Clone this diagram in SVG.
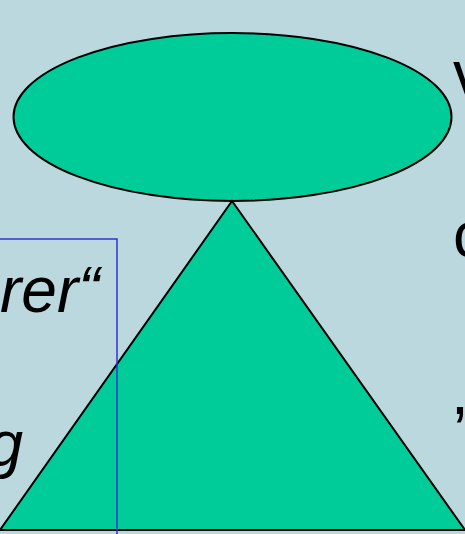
<svg xmlns="http://www.w3.org/2000/svg" width="465" height="534" viewBox="0 0 465 534">
<style>
.shape{fill:#00CC99;stroke:#000;stroke-width:2}
.t{font-family:"Liberation Sans",Arial,sans-serif;font-size:64px;fill:#000}
.i{font-style:italic}
</style>
<rect x="0" y="0" width="465" height="534" fill="#BBD8DF"/>
<g id="ellipse"><ellipse class="shape" cx="232.5" cy="117" rx="219" ry="84"/></g>
<g id="triangle"><polygon class="shape" points="232,201 0,530 465,530"/></g>
<g id="box"><rect x="-5" y="239" width="122" height="300" fill="none" stroke="#3333CC" stroke-width="1.5"/></g>
<g id="left-text">
<text class="t i" x="0" y="312">rer“</text>
<text class="t i" x="23" y="466" text-anchor="end">g</text>
</g>
<g id="right-text">
<text class="t" x="453" y="96">v</text>
<text class="t" x="453" y="257">c</text>
<text class="t" x="451" y="414">,</text>
</g>
</svg>
